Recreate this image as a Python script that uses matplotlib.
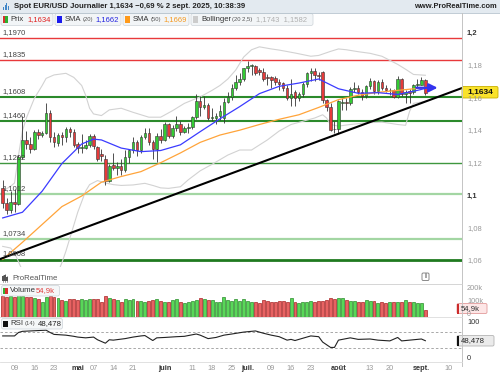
import matplotlib

matplotlib.use("Agg")
import matplotlib.pyplot as plt
import matplotlib.transforms as mtransforms
from matplotlib.patches import FancyBboxPatch, Rectangle
import numpy as np

# ---- daily candles EUR/USD, 4 avr. -> 2 sept. 2025 (bar index 0..107) ----
OPEN = [1.1047, 1.0955, 1.0915, 1.0965, 1.0950, 1.1240, 1.1345, 1.1320, 1.1290, 1.1395,
        1.1375, 1.1385, 1.1510, 1.1360, 1.1325, 1.1375, 1.1365, 1.1410, 1.1395, 1.1320,
        1.1295, 1.1295, 1.1315, 1.1370, 1.1300, 1.1260, 1.1230, 1.1095, 1.1190, 1.1175,
        1.1185, 1.1160, 1.1240, 1.1285, 1.1330, 1.1285, 1.1365, 1.1385, 1.1330, 1.1290,
        1.1370, 1.1345, 1.1440, 1.1370, 1.1420, 1.1445, 1.1395, 1.1420, 1.1425, 1.1485,
        1.1585, 1.1550, 1.1560, 1.1480, 1.1482, 1.1495, 1.1480, 1.1580, 1.1610, 1.1665,
        1.1700, 1.1720, 1.1787, 1.1800, 1.1802, 1.1775, 1.1760, 1.1735, 1.1735, 1.1725,
        1.1700, 1.1695, 1.1665, 1.1600, 1.1640, 1.1600, 1.1625, 1.1690, 1.1755, 1.1770,
        1.1745, 1.1760, 1.1590, 1.1545, 1.1415, 1.1410, 1.1570, 1.1580, 1.1575, 1.1660,
        1.1665, 1.1640, 1.1615, 1.1675, 1.1705, 1.1645, 1.1700, 1.1665, 1.1650, 1.1650,
        1.1610, 1.1720, 1.1625, 1.1645, 1.1640, 1.1685, 1.1685, 1.1715]
HIGH = [1.1100, 1.0990, 1.1030, 1.1045, 1.1250, 1.1490, 1.1400, 1.1360, 1.1405, 1.1415,
        1.1400, 1.1573, 1.1530, 1.1395, 1.1390, 1.1395, 1.1425, 1.1425, 1.1410, 1.1335,
        1.1380, 1.1345, 1.1380, 1.1380, 1.1310, 1.1290, 1.1250, 1.1195, 1.1265, 1.1210,
        1.1230, 1.1285, 1.1290, 1.1365, 1.1345, 1.1375, 1.1420, 1.1420, 1.1345, 1.1385,
        1.1415, 1.1455, 1.1450, 1.1435, 1.1495, 1.1460, 1.1430, 1.1450, 1.1495, 1.1630,
        1.1615, 1.1615, 1.1575, 1.1540, 1.1510, 1.1560, 1.1600, 1.1640, 1.1690, 1.1745,
        1.1755, 1.1790, 1.1830, 1.1810, 1.1805, 1.1790, 1.1785, 1.1750, 1.1740, 1.1740,
        1.1720, 1.1700, 1.1680, 1.1720, 1.1650, 1.1640, 1.1700, 1.1760, 1.1790, 1.1790,
        1.1765, 1.1770, 1.1595, 1.1575, 1.1460, 1.1590, 1.1600, 1.1600, 1.1670, 1.1700,
        1.1680, 1.1660, 1.1680, 1.1725, 1.1715, 1.1715, 1.1720, 1.1680, 1.1665, 1.1660,
        1.1740, 1.1725, 1.1655, 1.1660, 1.1690, 1.1720, 1.1735, 1.1720]
LOW = [1.0925, 1.0890, 1.0895, 1.0900, 1.0945, 1.1230, 1.1290, 1.1265, 1.1280, 1.1350,
       1.1360, 1.1380, 1.1335, 1.1300, 1.1310, 1.1315, 1.1330, 1.1365, 1.1300, 1.1265,
       1.1265, 1.1290, 1.1300, 1.1290, 1.1215, 1.1215, 1.1065, 1.1085, 1.1160, 1.1130,
       1.1130, 1.1150, 1.1205, 1.1265, 1.1245, 1.1265, 1.1350, 1.1315, 1.1230, 1.1210,
       1.1325, 1.1340, 1.1355, 1.1355, 1.1400, 1.1375, 1.1385, 1.1390, 1.1410, 1.1475,
       1.1490, 1.1535, 1.1470, 1.1460, 1.1445, 1.1470, 1.1450, 1.1570, 1.1590, 1.1650,
       1.1680, 1.1705, 1.1760, 1.1745, 1.1745, 1.1745, 1.1710, 1.1685, 1.1665, 1.1680,
       1.1655, 1.1645, 1.1590, 1.1555, 1.1555, 1.1585, 1.1610, 1.1670, 1.1710, 1.1710,
       1.1715, 1.1575, 1.1520, 1.1400, 1.1390, 1.1390, 1.1530, 1.1530, 1.1560, 1.1640,
       1.1630, 1.1590, 1.1600, 1.1660, 1.1630, 1.1630, 1.1655, 1.1640, 1.1620, 1.1605,
       1.1600, 1.1615, 1.1575, 1.1575, 1.1630, 1.1670, 1.1680, 1.1620]
CLOSE = [1.0955, 1.0915, 1.0965, 1.0950, 1.1240, 1.1345, 1.1320, 1.1290, 1.1395, 1.1375,
         1.1385, 1.1510, 1.1360, 1.1330, 1.1375, 1.1365, 1.1415, 1.1395, 1.1315, 1.1295,
         1.1300, 1.1315, 1.1370, 1.1305, 1.1225, 1.1245, 1.1095, 1.1185, 1.1175, 1.1185,
         1.1160, 1.1240, 1.1285, 1.1330, 1.1285, 1.1365, 1.1385, 1.1335, 1.1290, 1.1370,
         1.1345, 1.1440, 1.1370, 1.1420, 1.1445, 1.1395, 1.1420, 1.1425, 1.1485, 1.1585,
         1.1550, 1.1560, 1.1480, 1.1482, 1.1495, 1.1525, 1.1580, 1.1610, 1.1665, 1.1700,
         1.1720, 1.1787, 1.1800, 1.1802, 1.1755, 1.1760, 1.1720, 1.1725, 1.1715, 1.1700,
         1.1690, 1.1665, 1.1600, 1.1630, 1.1600, 1.1625, 1.1690, 1.1755, 1.1770, 1.1745,
         1.1740, 1.1590, 1.1545, 1.1405, 1.1410, 1.1585, 1.1580, 1.1575, 1.1660, 1.1665,
         1.1640, 1.1615, 1.1675, 1.1705, 1.1645, 1.1700, 1.1665, 1.1650, 1.1652, 1.1610,
         1.1720, 1.1625, 1.1640, 1.1635, 1.1685, 1.1690, 1.1715, 1.1634]
# volume, thousands
VOLUME = [162, 156, 162, 156, 169, 162, 156, 151, 144, 136, 118, 156, 162, 156, 144, 131,
          126, 136, 136, 131, 136, 131, 136, 138, 138, 118, 164, 144, 136, 131, 118, 138,
          131, 136, 126, 123, 113, 123, 131, 136, 126, 118, 118, 131, 136, 118, 110, 118,
          123, 131, 144, 136, 131, 131, 118, 118, 156, 131, 123, 136, 123, 136, 126, 118,
          118, 110, 131, 123, 118, 113, 123, 126, 118, 144, 118, 110, 118, 113, 123, 118,
          126, 123, 131, 144, 136, 146, 146, 131, 126, 126, 118, 118, 131, 123, 123, 105,
          113, 110, 113, 113, 113, 113, 131, 113, 113, 110, 105, 54.9]

# indicators (bar index, value)
SMA20_X = [0, 5, 10, 15, 20, 23, 25, 30, 35, 40, 45, 50, 55, 60, 65, 70, 75, 80,
           85, 90, 95, 100, 105, 107]
SMA20_Y = [1.0865, 1.0900, 1.1030, 1.1200, 1.1320, 1.1350, 1.1345, 1.1295, 1.1273,
           1.1280, 1.1315, 1.1396, 1.1475, 1.1550, 1.1630, 1.1675, 1.1695, 1.1720,
           1.1660, 1.1632, 1.1636, 1.1625, 1.1650, 1.1662]
SMA50_X = [0, 5, 10, 15, 20, 25, 30, 35, 40, 45, 50, 55, 60, 65, 70, 75, 80, 85, 90,
           95, 100, 105, 107]
SMA50_Y = [1.0610, 1.0715, 1.0825, 1.0935, 1.1000, 1.1085, 1.1120, 1.1150, 1.1205,
           1.1265, 1.1330, 1.1375, 1.1405, 1.1440, 1.1472, 1.1500, 1.1545, 1.1593,
           1.1620, 1.1638, 1.1650, 1.1662, 1.1669]
BB_UP_X = [0, 2, 3, 4, 5, 6, 8, 10, 11, 13, 16, 18, 20, 21, 22, 23, 25, 27, 30, 33,
           37, 40, 43, 46, 50, 53, 55, 57, 59, 61, 63, 65, 68, 70, 74, 78, 80, 83, 85,
           87, 90, 93, 96, 98, 100, 102, 104, 107]
BB_UP_Y = [1.1030, 1.1060, 1.1080, 1.1250, 1.1400, 1.1480, 1.1600, 1.1680, 1.1724,
           1.1745, 1.1755, 1.1730, 1.1680, 1.1620, 1.1540, 1.1505, 1.1495, 1.1530,
           1.1540, 1.1515, 1.1485, 1.1485, 1.1525, 1.1570, 1.1610, 1.1650, 1.1680,
           1.1720, 1.1775, 1.1855, 1.1900, 1.1918, 1.1905, 1.1898, 1.1880, 1.1860,
           1.1865, 1.1890, 1.1905, 1.1900, 1.1888, 1.1878, 1.1860, 1.1835, 1.1810,
           1.1780, 1.1748, 1.1743]
BB_LO_X = [0, 2, 3, 4, 5, 6, 8, 10, 12, 13, 14, 15, 16, 18, 19, 21, 22, 24, 26, 28,
           30, 33, 36, 38, 40, 42, 45, 47, 50, 53, 57, 60, 63, 65, 67, 70, 73, 76, 79,
           81, 82, 83, 85, 88, 92, 96, 100, 102, 103, 104, 107]
BB_LO_Y = [1.0690, 1.0680, 1.0650, 1.0596, 1.0540, 1.0480, 1.0400, 1.0380, 1.0430,
           1.0500, 1.0530, 1.0590, 1.0660, 1.0820, 1.0900, 1.1030, 1.1070, 1.1095,
           1.1080, 1.1070, 1.1065, 1.1068, 1.1078, 1.1065, 1.1050, 1.1047, 1.1057,
           1.1100, 1.1155, 1.1195, 1.1252, 1.1283, 1.1283, 1.1314, 1.1345, 1.1400,
           1.1440, 1.1460, 1.1480, 1.1500, 1.1480, 1.1440, 1.1430, 1.1440, 1.1450,
           1.1455, 1.1440, 1.1435, 1.1520, 1.1570, 1.1582]
RSI_X = [0, 3, 4, 5, 7, 9, 11, 12, 13, 16, 18, 19, 21, 23, 24, 26, 27, 28, 31, 33, 35,
         36, 38, 39, 41, 44, 46, 49, 50, 52, 54, 56, 58, 61, 62, 64, 66, 68, 70, 72, 73,
         74, 76, 78, 80, 81, 83, 84, 85, 88, 90, 93, 95, 98, 100, 101, 104, 106, 107]
RSI_Y = [61, 61, 70, 73, 74, 75, 76, 70, 65, 63, 60, 58, 56, 58, 51, 42, 51, 50, 54,
         58, 61, 62, 49, 56, 57, 59, 60, 66, 63, 54, 57, 63, 66, 71, 72, 74, 68, 63, 59,
         50, 52, 49, 55, 61, 59, 45, 31, 31, 50, 56, 52, 53, 50, 48, 57, 48, 51, 53, 48.5]

RESISTANCES = [1.1970, 1.1835]
SUPPORTS = [1.1608, 1.1460, 1.1202, 1.1012, 1.0734, 1.0608]
SUPPORT_COLORS = ["#2b8a2b", "#2b8a2b", "#3f973f", "#a3d6a3", "#a3d6a3", "#1f7a1f"]
SUPPORT_LW = [1.5, 1.5, 1.0, 1.6, 1.6, 2.0]
TREND_X = [0, 107]
TREND_Y = [1.0618, 1.1581]
ARROW_X = [104, 110.8]

TICK_POS = [3, 8, 13, 19, 23, 28, 33, 41, 48, 53, 58, 62, 68, 73, 78, 85, 93, 98, 106, 113]
TICK_LAB = ["09", "16", "23", "mai", "07", "14", "21", "juin", "11", "18", "25", "juil.",
            "09", "16", "23", "août", "13", "20", "sept.", "10"]
MONTHS = {"mai", "juin", "juil.", "août", "sept."}

W, H = 500, 375
GREEN, RED = "#33cc33", "#e63a3a"


def box(x0, y0, x1, y1):
    return [x0 / W, 1 - y1 / H, (x1 - x0) / W, (y1 - y0) / H]


def fmt(v, nd=4):
    return f"{v:.{nd}f}".replace(".", ",")


plt.rcParams["font.family"] = ["Liberation Sans", "DejaVu Sans"]
fig = plt.figure(figsize=(5, 3.75), dpi=100, facecolor="white")

o, h, l, c = (np.array(a) for a in (OPEN, HIGH, LOW, CLOSE))
idx = np.arange(len(c))
up = c >= o
XL = (-0.68, 116.28)

# ---------------- price panel ----------------
ax = fig.add_axes(box(0, 13, 462, 267))
ax.set_xlim(*XL)
ax.set_ylim(1.056308, 1.212615)
ax.axis("off")

for lv in RESISTANCES:
    ax.axhline(lv, color="#e8393b", lw=1.0, zorder=1)
for lv, col, lw in zip(SUPPORTS, SUPPORT_COLORS, SUPPORT_LW):
    ax.axhline(lv, color=col, lw=lw, zorder=1)
for lv in RESISTANCES + SUPPORTS:
    ax.annotate(fmt(lv), xy=(XL[0], lv), xytext=(1.5, 1.6), textcoords="offset points",
                fontsize=5.5, color="#444444", va="bottom", ha="left", zorder=7)

ax.plot(BB_UP_X, BB_UP_Y, color="#d2d2d2", lw=0.8, zorder=2)
ax.plot(BB_LO_X, BB_LO_Y, color="#d2d2d2", lw=0.8, zorder=2)

ax.vlines(idx, l, h, color="#333333", lw=0.6, zorder=4)
ax.bar(idx, np.maximum(np.abs(c - o), 0.00035), bottom=np.minimum(o, c), width=0.64,
       color=np.where(up, GREEN, RED), edgecolor="#333333", linewidth=0.4, zorder=5)

ax.plot(SMA50_X, SMA50_Y, color="#ffa43a", lw=0.9, zorder=6)
ax.plot(SMA20_X, SMA20_Y, color="#3b3bff", lw=0.9, zorder=6)
ax.axline((TREND_X[0], TREND_Y[0]), (TREND_X[1], TREND_Y[1]), color="black", lw=1.5,
          zorder=6)
ax.annotate("", xy=(ARROW_X[1], SMA20_Y[-1] + 0.0004), xytext=(ARROW_X[0], SMA20_Y[-1] + 0.0004),
            arrowprops=dict(arrowstyle="-|>,head_length=0.5,head_width=0.25",
                            color="#3333ee", lw=1.6), zorder=7)

# ---------------- volume panel ----------------
av = fig.add_axes(box(0, 284, 462, 317))
av.set_xlim(*XL)
av.set_ylim(0, 254)
av.axis("off")
av.bar(idx, VOLUME, width=0.74, color=np.where(up, "#58d858", "#e86262"),
       edgecolor=np.where(up, "#2c8c2c", "#a82424"), linewidth=0.5)

# ---------------- RSI panel ----------------
ar = fig.add_axes(box(0, 317, 462, 362))
ar.set_xlim(*XL)
ar.set_ylim(-7.05, 110.4)
ar.axis("off")
for lv in (70, 30):
    ar.axhline(lv, color="#9a9a9a", lw=0.6, ls=(0, (3, 2.5)))
ar.plot(RSI_X, RSI_Y, color="#222222", lw=0.8)

# date labels
tr = mtransforms.blended_transform_factory(ar.transData, fig.transFigure)
for p, lab in zip(TICK_POS, TICK_LAB):
    m = lab in MONTHS
    ar.text(p, 1 - 369 / H, lab, transform=tr, ha="center", va="center", fontsize=5.3,
            color="#333333" if m else "#999999", fontweight="bold" if m else "normal",
            clip_on=False)

# ---------------- decorations (pixel overlay) ----------------
ov = fig.add_axes([0, 0, 1, 1], zorder=10)
ov.set_xlim(0, W)
ov.set_ylim(H, 0)
ov.axis("off")
ov.patch.set_alpha(0)

ov.add_patch(Rectangle((0, 0), W, 13, fc="#e3eaf0", ec="none"))
ov.plot([0, W], [13, 13], color="#b7c4ce", lw=0.6)
for k, hh in enumerate([3, 5, 7, 4]):
    ov.add_patch(Rectangle((3 + k * 1.6, 10 - hh), 1.0, hh, fc="#3f86c8", ec="none"))
ov.text(14, 6.8, "Spot EUR/USD Journalier 1,1634 −0,69 % 2 sept. 2025, 10:38:39",
        fontsize=5.6, fontweight="bold", color="#222222", va="center", ha="left")
ov.text(497, 6.8, "www.ProRealTime.com", fontsize=5.4, fontweight="bold",
        color="#222222", va="center", ha="right")

# separators and right axis line
ov.plot([462, 462], [13, 366], color="#c4c4c4", lw=0.7)
for yy, col in ((284, "#cfcfcf"), (317, "#dcdcdc"), (362, "#dcdcdc")):
    ov.plot([0, 462], [yy, yy], color=col, lw=0.6)


# legend boxes
def legbox(x0, x1, y0=13.5, y1=25.5):
    ov.add_patch(FancyBboxPatch((x0, y0), x1 - x0, y1 - y0,
                                boxstyle="round,pad=0,rounding_size=2",
                                fc="#f2f5f7", ec="#d3d9de", lw=0.6))


LFS, SFS = 5.5, 4.2
legbox(1, 53)
ov.add_patch(Rectangle((3, 16), 2.3, 7, fc="#d83030", ec="none"))
ov.add_patch(Rectangle((5.3, 16), 2.3, 7, fc="#30b030", ec="none"))
ov.text(10, 19.6, "Prix", fontsize=LFS, color="#333333", va="center")
ov.text(27, 19.6, "1,1634", fontsize=LFS, color="#e02020", va="center")
legbox(55, 121)
ov.add_patch(Rectangle((57, 16), 5, 7, fc="#1a1aee", ec="none"))
ov.text(65, 19.6, "SMA", fontsize=LFS, color="#333333", va="center")
ov.text(83, 19.6, "(20)", fontsize=SFS, color="#555555", va="center")
ov.text(95.5, 19.6, "1,1662", fontsize=LFS, color="#2525e0", va="center")
legbox(123, 189)
ov.add_patch(Rectangle((125, 16), 5, 7, fc="#ff9a1a", ec="none"))
ov.text(133, 19.6, "SMA", fontsize=LFS, color="#333333", va="center")
ov.text(151, 19.6, "(50)", fontsize=SFS, color="#555555", va="center")
ov.text(163.5, 19.6, "1,1669", fontsize=LFS, color="#f59a22", va="center")
legbox(191, 313)
ov.add_patch(Rectangle((193, 16), 5, 7, fc="#cccccc", ec="none"))
ov.text(201, 19.6, "Bollinger", fontsize=LFS, color="#333333", va="center")
ov.text(232, 19.6, "(20 2,5)", fontsize=SFS, color="#555555", va="center")
ov.text(256, 19.6, "1,1743  1,1582", fontsize=LFS, color="#b0b0b0", va="center")

# right price axis
for v in (1.2, 1.18, 1.16, 1.14, 1.12, 1.1, 1.08, 1.06):
    yy = 33.5 + (1.2 - v) * 1625
    major = v in (1.2, 1.1)
    ov.text(467, yy, f"{v:g}".replace(".", ","), fontsize=5.4, va="center",
            color="#333333" if major else "#999999", fontweight="bold" if major else "normal")
ov.add_patch(FancyBboxPatch((462, 86.5), 36, 11.5, boxstyle="round,pad=0,rounding_size=1.5",
                            fc="#f9e22b", ec="#c9b000", lw=0.6))
ov.text(480, 92.4, fmt(CLOSE[-1]), fontsize=6, fontweight="bold", color="#111111",
        ha="center", va="center")

# volume / rsi axis labels
ov.text(467, 289, "200k", fontsize=5.3, color="#999999", va="center")
ov.text(467, 301.5, "100k", fontsize=5.3, color="#999999", va="center")
ov.text(467, 315, "0", fontsize=5.0, color="#999999", va="center")
ov.text(467, 322, "100", fontsize=5.3, color="#333333", va="center")
ov.text(467, 359, "0", fontsize=5.3, color="#333333", va="center")
ov.add_patch(FancyBboxPatch((457, 303.5), 30, 10, boxstyle="round,pad=0,rounding_size=1.5",
                            fc="#fde6e6", ec="#e29a9a", lw=0.6))
ov.add_patch(Rectangle((457, 303.5), 1.8, 10, fc="#cc2b2b", ec="none"))
ov.text(460.5, 308.6, "54,9k", fontsize=5.6, color="#333333", va="center")
ov.add_patch(FancyBboxPatch((457, 335.5), 37, 10.5, boxstyle="round,pad=0,rounding_size=1.5",
                            fc="#ebebeb", ec="#b4b4b4", lw=0.6))
ov.add_patch(Rectangle((457, 335.5), 1.8, 10.5, fc="#111111", ec="none"))
ov.text(460.5, 340.8, "48,478", fontsize=5.6, color="#222222", va="center")

# panel labels
ov.add_patch(FancyBboxPatch((1.5, 285.5), 58, 10.5, boxstyle="round,pad=0,rounding_size=2",
                            fc="#f5f7f8", ec="#d3d9de", lw=0.6))
ov.add_patch(Rectangle((3, 287.5), 2.3, 6.5, fc="#30b030", ec="none"))
ov.add_patch(Rectangle((5.3, 287.5), 2.3, 6.5, fc="#d83030", ec="none"))
ov.text(10, 290.8, "Volume", fontsize=5.6, color="#333333", va="center")
ov.text(36, 290.8, "54,9k", fontsize=5.6, color="#e04040", va="center")
ov.add_patch(FancyBboxPatch((1.5, 318.5), 61, 10.5, boxstyle="round,pad=0,rounding_size=2",
                            fc="#f5f7f8", ec="#d3d9de", lw=0.6))
ov.add_patch(Rectangle((3, 320.5), 4.6, 6.5, fc="#111111", ec="none"))
ov.text(10, 323.8, "RSI", fontsize=5.6, color="#333333", va="center")
ov.text(24.5, 323.8, "(14)", fontsize=SFS, color="#555555", va="center")
ov.text(37.5, 323.8, "48,478", fontsize=5.6, color="#222222", va="center")

# logo and info icon
for k, (yb, hh) in enumerate([(276, 5), (275, 6), (277, 4)]):
    ov.plot([3 + k * 2, 3 + k * 2], [yb - 1, yb + hh + 1], color="#555555", lw=0.4)
    ov.add_patch(Rectangle((2.4 + k * 2, yb), 1.2, hh, fc="#555555", ec="none"))
ov.text(12, 278.5, "ProRealTime", fontsize=5.6, color="#555555", va="center")
ov.add_patch(FancyBboxPatch((422, 273), 7, 7.5, boxstyle="round,pad=0,rounding_size=1.2",
                            fc="white", ec="#777777", lw=0.6))
ov.text(425.5, 277, "i", fontsize=5, color="#555555", ha="center", va="center",
        fontweight="bold")

fig.savefig("out.png", dpi=100, facecolor="white")
